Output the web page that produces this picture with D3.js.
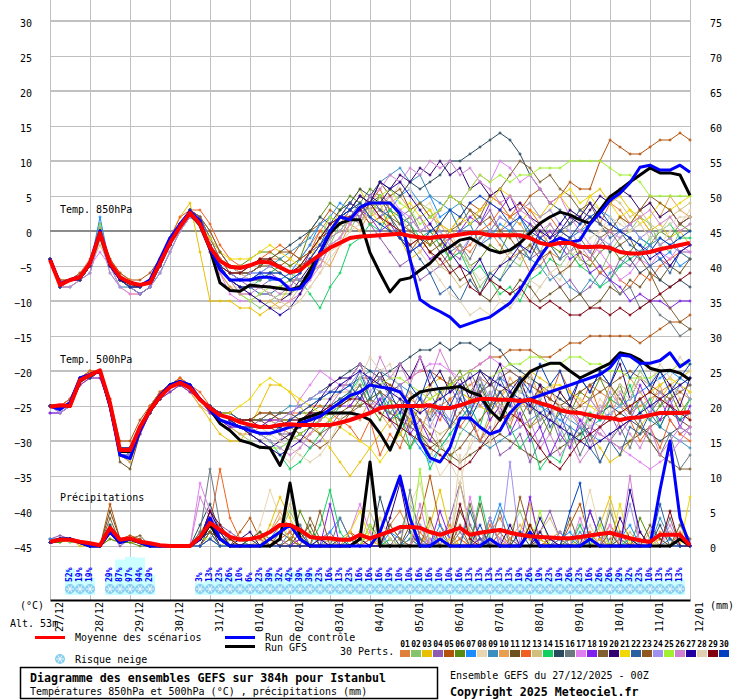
<!DOCTYPE html>
<html>
<head>
<meta charset="utf-8">
<script src="https://cdn.jsdelivr.net/npm/d3@7"></script>
<style>
body { margin: 0; background: #fff; }
svg { display: block; }
</style>
</head>
<body>
<script>
//---------------------------------- DATA ------------------------------------------
// 6-hourly steps over 384h, day labels under the gridlines
var days = ["27/12","28/12","29/12","30/12","31/12","01/01","02/01","03/01","04/01","05/01","06/01","07/01","08/01","09/01","10/01","11/01","12/01"];
var hours = d3.range(0, 385, 6);

var memberColors = ["#e07f3a","#86c46b","#e8c000","#8e5bb0","#b5520a","#5a8a10","#1a8cff","#e8d6b0","#3a8fc0","#e8a050",
	"#6b5020","#f06020","#d0c080","#10d060","#2a4a60","#6a7880","#e080f0","#8020f0","#806030","#300070",
	"#f0d800","#2a60a0","#905820","#a090f0","#a0f030","#d080d0","#2000a0","#e0d0b0","#800010","#0040c0"];

// mean / control / GFS
var meanT850 = [-4.1,-7.7,-7,-6.6,-4.6,-0.3,-4.6,-6.6,-7.4,-7.7, -7.4,-4.6,-1.7,0.6,2.6,1,-2.3,-4.3,-5.1,-5.3, -4.9,-4.4,-4.5,-5.2,-5.9,-5.6,-4.4,-3.4,-2.4,-1.7, -1,-0.8,-0.7,-0.6,-0.5,-0.4,-0.7,-0.9,-1,-0.8, -0.7,-0.5,-0.3,-0.3,-0.6,-0.6,-0.6,-0.6,-1,-1.7, -2,-1.7,-1.7,-2.3,-2.3,-2.2,-2.4,-3,-3.2,-3.2, -3,-2.6,-2.3,-2,-1.7];
var ctlT850 = [-4,-7.5,-7,-6.5,-4.5,0,-4.8,-6.8,-7.3,-7.8, -7,-4,-1,1,2.8,1.5,-2.5,-5.5,-7,-7, -7,-6.6,-6.6,-7,-8.4,-8.2,-6.6,-3.1,0,2, 1.6,3.4,4,4,4,2.5,-4,-9.8,-10.8,-11.5, -12.3,-13.7,-13.2,-12.7,-12.3,-11.3,-10.3,-8.4,-6,-3.7, -1.7,-1,-1.6,-1.3,1,2.6,4.4,5.4,6.9,9.1, 9.4,8.7,8.7,9.4,8.4];
var gfsT850 = [-4,-7.6,-7,-6.6,-4.6,-0.5,-4.8,-6.8,-7.5,-7.8, -7.3,-4.5,-1.5,0.8,2.5,0.8,-2.6,-7.4,-8.5,-8.6, -7.7,-7.9,-8,-8.2,-8.4,-8,-5.6,-3.1,-0.3,1.1, 1.6,1.6,-3.1,-6,-8.7,-7,-6.7,-5.6,-4.6,-3.1, -2.3,-1.3,-1,-1.8,-2.7,-3.1,-2.7,-1.7,-0.3,1.1, 2,2.7,2.3,1.6,1.1,3,4.9,5.9,7,8, 9,8.3,8.3,8,5.1];

var meanT500 = [-25.1,-24.9,-25,-21.3,-20.6,-19.9,-24.6,-31.3,-31.3,-28, -25.6,-23.7,-22.3,-21.7,-22.4,-24.1,-25.3,-26.3,-26.7,-27.3, -27.7,-28,-28,-27.7,-27.6,-27.7,-27.7,-27.7,-27.7,-27.4, -27,-26.5,-26,-25.3,-25.1,-25,-25,-25,-24.9,-25.3, -25.3,-24.9,-24.4,-24,-24,-24.1,-24.1,-24.3,-24.1,-24.6, -25,-25.6,-25.9,-26,-26.3,-26.6,-26.7,-27,-26.7,-26.6, -26.3,-26,-26,-26,-25.9];
var ctlT500 = [-25,-25.5,-24.5,-21,-20.5,-20,-25,-32,-32.5,-28.5, -25.5,-23.5,-22,-21.5,-22,-24,-25.5,-27,-27.5,-28, -28.5,-28.9,-28.9,-28.5,-28,-27.5,-27,-26.5,-25.5,-24.5, -23.5,-23,-22,-22.3,-22.5,-23,-25,-29.9,-32.4,-33, -30.9,-26.7,-26.7,-28,-29,-28.5,-26,-24.5,-24,-23.5, -23,-22.5,-22,-21.5,-21,-20.5,-19.5,-17.7,-17.9,-18.9, -18.9,-18.5,-17.4,-19.4,-18.4];
var gfsT500 = [-25,-25,-25,-21.5,-20.5,-20,-25,-31.5,-31.5,-28, -25.5,-23.5,-22,-21.5,-22.5,-24,-25.5,-27.5,-28.5,-29.9, -30.3,-30.9,-31,-33.5,-30,-27,-26.5,-26,-26,-26, -26,-26.3,-27,-28.9,-31.3,-28,-24,-23,-22.7,-22.5, -22.4,-22.2,-23,-23.5,-25.6,-27,-24,-21.7,-20.1,-19.4, -18.9,-18.9,-20,-21,-20.3,-19.6,-18.9,-17.4,-17.7,-18.4, -19.6,-20,-19.9,-20.3,-21.3];

var meanPrec = [0.6,0.9,0.9,0.6,0.4,0.1,2.6,0.9,1.1,0.6, 0.4,0.1,0,0,0,1.3,3.3,2.3,1.3,0.9, 1,1.3,2,3,3,2.3,1.3,1.1,1.1,0.9, 0.9,1.6,1.1,1.6,2.1,2.7,2.7,2.6,2,1.6, 2.1,2.6,1.6,1.9,2.1,2.3,1.9,1.6,1.4,1.3, 1.2,1.1,1.1,1.3,1.5,1.7,1.9,1.5,1.1,0.8, 0.6,1.6,1.6,1.6,0.1];
var ctlPrec = [0.5,1,1,0.5,0,0,2,0.5,1,0.5, 0,0,0,0,0,1,4,1,0,0, 0,0,1,2,3,1,0,0,0,0, 0,0,0,2,6,10,4,0,0,1, 0,0,0,0,1,0,0,0,2,0, 0,0,0,0,1,0,0,0,0,0, 0,8,15,4,0];
var gfsPrec = [0.5,1,1,0.5,0,0,2,0.5,1,0.5, 0,0,0,0,0,1,3,1,0,0, 0,0,0,1,9,1,0,0,0,0, 0,1,12,0,0,0,0,0,0,0, 0,0,0,0,0,0,0,0,0,0, 0,0,0,0,0,0,0,0,0,0, 0,0,0,1,0];

// 30 perturbed members, 850hPa temperature (°C)
var membersT850 = [
	[-4,-7,-7,-6,-4,0,-4,-6,-7,-8, -7,-4,-1,1,3,2,0,-3,-5,-6, -6,-5,-4,-4,-5,-4, -2,0,2,1,3,4,2,3,1,0, -2,-1,-3,-5,-4,-2,-3,-1,0,-2, -4,-3,-6,-5,-3,-4,-1,0,2,1, 4,3,1,2,0,-2,-1,-3,-4],
	[-4,-8,-7,-7,-5,-1,-5,-7,-8,-9, -8,-5,-2,0,2,1,-3,-6,-8,-9, -10,-11,-10,-9,-9,-8, -6,-3,-2,1,0,3,2,5,3,1, 2,4,3,0,-3,-2,-5,-8,-6,-7, -4,-5,-2,-1,1,-1,-3,-5,-4,-6, -3,-1,0,2,1,-2,-3,0,1],
	[-4,-8,-7,-7,-5,0,-5,-7,-7,-8, -7,-4,-1,2,4,-3,-10,-10,-10,-11, -11,-12,-11,-10,-8,-6, -4,-1,0,3,4,6,3,4,0,-1, -4,-3,-1,1,3,0,1,-2,-1,0, 2,1,3,2,4,5,3,2,5,6, 4,5,3,2,0,1,-1,0,-2],
	[-4,-8,-8,-7,-6,-1,-5,-7,-8,-8, -7,-5,-2,1,2,1,-2,-5,-6,-7, -8,-8,-7,-7,-6,-5, -3,-2,0,2,1,3,1,-1,-3,-5, -4,-7,-6,-5,-3,-4,-1,1,3,0, 1,-2,-4,-3,-6,-8,-7,-9,-8,-6, -7,-4,-5,-3,-2,-4,-5,-3,-3],
	[-4,-7,-7,-6,-5,0,-4,-6,-7,-7, -6,-4,-1,1,3,2,-1,-4,-5,-6, -7,-7,-6,-5,-4,-2, 0,1,3,2,4,3,1,2,0,-1, -3,-1,-2,1,0,2,4,3,5,4, 2,3,5,6,4,5,7,6,6,10, 13,12,11,11,12,13,13,14,13],
	[-4,-8,-7,-7,-5,0,-5,-7,-8,-8, -7,-5,-2,1,3,1,-2,-4,-5,-5, -4,-3,-3,-4,-5,-4, 0,2,4,3,5,4,6,5,3,1, 2,0,-2,-1,-4,-3,-5,-4,-2,-3, 0,-1,1,0,-2,-3,-1,-4,-5,-3, -2,-4,-3,-1,-2,0,-1,1,0],
	[-4,-8,-7,-7,-5,2,-5,-7,-8,-8, -7,-5,-2,1,3,2,-1,-3,-5,-6, -6,-6,-7,-7,-6,-4, -2,1,2,4,3,5,4,2,3,5, 6,4,5,2,3,0,1,-2,-1,1, 0,2,-1,-3,-2,-4,-1,0,1,3, 2,0,1,-1,-2,-4,-3,-5,-4],
	[-4,-8,-7,-7,-5,0,-5,-7,-7,-8, -7,-5,-2,1,3,1,-3,-6,-8,-8, -8,-8,-9,-10,-11,-10, -8,-6,-3,-2,1,0,3,5,4,7, 6,3,4,1,0,-3,-5,-7,-6,-10, -11,-9,-10,-8,-6,-7,-4,-2,-3,0, 1,2,0,1,-1,-2,0,1,3],
	[-4,-8,-7,-7,-5,0,-5,-7,-8,-8, -7,-5,-2,1,3,1,-2,-5,-6,-7, -7,-6,-5,-4,-3,-2, -1,1,0,2,3,5,4,7,8,9, 7,8,5,4,3,4,1,2,0,-1, -3,-2,-4,-5,-7,-6,-8,-9,-7,-8, -6,-5,-3,-4,-2,-1,-2,-3,-4],
	[-4,-8,-8,-7,-6,-1,-6,-8,-9,-9, -8,-6,-3,0,2,1,-3,-6,-8,-9, -9,-10,-10,-11,-10,-9, -7,-4,-5,-2,1,0,3,2,4,5, 3,4,2,1,-1,1,2,3,5,4, 2,1,-1,0,-2,0,1,3,2,1, 0,2,1,3,4,2,5,3,2],
	[-4,-8,-7,-7,-5,0,-5,-7,-8,-8, -7,-5,-2,1,3,1,-2,-5,-6,-6, -6,-5,-5,-6,-7,-7, -6,-5,-2,-1,2,1,4,3,2,0, 1,-2,-1,-3,-5,-7,-6,-9,-10,-8, -9,-7,-8,-10,-9,-8,-10,-9,-11,-10, -8,-9,-7,-8,-6,-7,-5,-6,-4],
	[-4,-8,-7,-7,-5,0,-5,-7,-7,-8, -7,-4,-1,2,3,3,1,-2,-4,-5, -5,-4,-3,-2,-3,-4, -3,0,-1,2,3,5,4,6,3,2, 1,2,0,-2,-1,-3,-2,0,1,3, 2,4,3,1,2,0,-1,-3,-4,-6, -5,-7,-8,-6,-7,-5,-4,-3,-2],
	[-4,-8,-7,-7,-5,-2,-5,-7,-8,-8, -7,-5,-2,1,3,1,-2,-5,-7,-8, -9,-10,-11,-11,-10,-8, -6,-5,-2,-1,2,1,4,3,5,2, 0,-1,-3,-5,-6,-8,-7,-9,-6,-5, -3,-4,-2,-3,0,-1,1,2,4,3, 5,4,2,3,1,0,2,3,4],
	[-4,-8,-7,-7,-5,0,-5,-8,-8,-9, -8,-6,-3,0,2,1,-2,-5,-7,-8, -8,-7,-6,-5,-6,-7, -9,-11,-8,-6,-2,-1,1,0,3,2, 1,-1,0,-2,-4,-3,-6,-5,-7,-9, -8,-10,-7,-6,-4,-5,-3,-5,-6,-8, -7,-5,-4,-3,-1,0,1,-1,-1],
	[-4,-8,-7,-7,-5,0,-5,-7,-8,-8, -7,-5,-2,1,3,1,-2,-5,-6,-7, -6,-5,-4,-3,-2,-1, 0,2,1,3,4,6,5,7,6,5, 7,6,7,8,10,10,11,12,13,14, 13,11,8,6,4,3,1,2,0,-1, -3,-2,-4,-6,-5,-7,-8,-7,-8],
	[-4,-8,-7,-7,-5,0,-5,-7,-8,-8, -7,-5,-2,1,3,2,-1,-4,-6,-7, -7,-7,-6,-6,-7,-8, -6,-4,-1,0,2,4,3,5,4,2, 3,0,1,-1,-3,-2,-4,-1,0,2, 1,-1,0,-3,-2,-4,-3,-1,-3,-5, -7,-9,-8,-11,-10,-12,-13,-15,-14],
	[-4,-8,-7,-7,-5,-3,-5,-8,-9,-9, -8,-6,-3,0,2,1,-3,-6,-9,-10, -10,-9,-9,-10,-10,-9, -7,-5,-2,-1,1,3,2,4,5,3, 2,0,1,3,5,4,6,8,7,10, 9,7,8,6,4,5,2,0,-2,-3, -5,-7,-6,-4,-5,-3,-4,-2,-3],
	[-4,-8,-7,-7,-5,0,-5,-7,-8,-8, -7,-5,-2,1,3,1,-2,-5,-7,-7, -7,-6,-6,-7,-8,-6, -3,-1,1,2,4,3,2,0,1,-1, -3,-2,-4,-3,-1,0,2,1,4,3, 5,2,1,-1,0,-2,-4,-3,-6,-5, -7,-8,-10,-9,-10,-10,-11,-10,-10],
	[-4,-8,-7,-7,-5,0,-5,-7,-8,-8, -7,-5,-2,1,3,1,-2,-4,-6,-6, -5,-4,-4,-5,-6,-5, -4,-2,0,1,3,2,4,5,2,1, 0,-1,-3,-2,0,1,3,2,5,6, 8,10,9,7,8,6,5,3,4,1, 0,-2,-1,-4,-6,-9,-11,-13,-14],
	[-4,-8,-7,-7,-5,1,-5,-7,-8,-9, -8,-5,-2,1,3,1,-2,-5,-7,-8, -8,-8,-9,-10,-9,-7, -5,-3,0,1,3,2,5,4,6,8, 7,9,8,10,8,9,6,7,5,6, 3,4,2,1,-1,0,2,1,3,5, 4,6,5,3,4,2,3,1,2],
	[-4,-8,-7,-7,-5,0,-5,-7,-8,-8, -7,-5,-2,1,3,1,-1,-3,-4,-4, -4,-3,-2,-3,-4,-5, -5,-4,-1,0,2,1,3,1,2,3, 4,2,3,1,0,2,1,3,4,6, 5,3,4,2,3,5,6,4,5,3, 4,2,3,1,2,4,3,4,5],
	[-4,-8,-7,-7,-5,0,-5,-7,-8,-8, -7,-5,-2,1,3,1,-2,-5,-7,-8, -8,-9,-9,-8,-7,-6, -4,-2,1,2,4,3,5,3,2,-1, -2,-4,-6,-9,-8,-10,-7,-9,-6,-7, -5,-3,-4,-1,-2,0,1,3,2,1, -1,0,-2,-3,-5,-4,-6,-3,-2],
	[-4,-8,-7,-7,-5,0,-5,-7,-8,-8, -7,-5,-2,1,3,2,0,-3,-5,-6, -6,-5,-4,-3,-3,-4, -3,-1,0,2,3,5,4,7,5,6, 3,4,2,3,5,4,3,1,2,0, -1,-3,-2,-4,-3,-6,-5,-3,-4,-1, 0,2,1,3,5,4,3,1,2],
	[-4,-8,-8,-7,-6,-1,-6,-8,-8,-9, -8,-6,-3,0,2,1,-2,-5,-6,-7, -6,-6,-5,-5,-6,-7, -6,-4,-1,0,2,1,3,2,4,3, 1,2,-1,0,-2,-3,-1,-2,0,2, 1,3,4,2,3,1,0,-2,-3,-1, -2,0,1,-1,0,-2,-1,-3,-2],
	[-4,-8,-7,-7,-5,1,-5,-7,-8,-8, -7,-5,-2,1,3,1,-2,-5,-7,-9, -10,-9,-8,-8,-7,-5, -3,-1,2,1,3,4,2,5,6,4, 3,1,2,3,5,4,6,8,7,8, 7,8,8,9,9,9,10,10,10,10, 9,8,8,7,5,5,5,5,5],
	[-4,-8,-7,-7,-5,0,-5,-7,-8,-8, -7,-5,-2,1,3,1,-2,-5,-7,-9, -9,-8,-8,-9,-8,-6, -4,-2,0,1,3,2,5,6,8,7, 9,8,10,9,10,8,9,7,6,4, 5,3,2,0,1,-1,-3,-2,-4,-2, 0,-1,1,2,3,1,2,0,1],
	[-4,-8,-7,-7,-5,0,-5,-7,-8,-8, -7,-5,-2,1,3,1,-2,-5,-7,-8, -9,-10,-11,-12,-11,-9, -6,-3,0,2,3,5,4,7,6,7, 5,3,1,-1,-3,-5,-6,-4,-7,-5, -4,-2,-3,0,-1,1,3,2,4,2, 1,0,-1,-2,-4,-3,-5,-3,-2],
	[-4,-8,-7,-7,-5,-1,-5,-7,-8,-8, -7,-5,-2,1,3,1,-2,-4,-5,-6, -7,-8,-9,-10,-11,-10, -8,-6,-4,-2,0,1,3,2,1,0, -1,-3,-5,-7,-9,-10,-12,-11,-12,-10, -11,-9,-7,-8,-6,-5,-3,-4,-1,0, 2,1,0,1,-1,0,1,2,2],
	[-4,-8,-7,-7,-5,0,-5,-7,-8,-8, -7,-5,-2,1,3,1,-2,-5,-6,-6, -5,-4,-4,-5,-6,-5, -3,-1,1,2,2,3,4,2,1,0, -2,-1,-3,-4,-6,-5,-8,-9,-7,-8, -9,-8,-10,-11,-10,-11,-12,-12,-11,-11, -12,-11,-12,-11,-10,-9,-8,-7,-6],
	[-4,-8,-7,-7,-5,0,-5,-7,-8,-8, -7,-5,-2,1,3,1,-2,-5,-7,-7, -7,-6,-6,-6,-7,-6, -4,-2,0,2,3,4,2,1,0,-1, -3,-2,0,1,3,2,4,5,4,3, 1,2,0,-1,-2,0,-1,1,2,3, 1,0,-1,-2,-3,-1,-2,-1,0]
];

// 30 perturbed members, 500hPa temperature (°C)
var membersT500 = [
	[-25,-25,-24,-21,-20,-20,-24,-31,-32,-28, -25,-23,-22,-21,-22,-24,-25,-26,-27,-27, -28,-28,-27,-26,-26,-27,-28,-27,-26,-25, -24,-23,-22,-21,-22,-23,-24,-25,-26,-25, -24,-23,-22,-21,-22,-23,-25,-27,-28,-27, -26,-25,-24,-23,-22,-23,-24,-25,-26,-25, -24,-23,-22,-23,-24],
	[-25,-26,-25,-21,-21,-20,-25,-32,-33,-29, -26,-24,-23,-22,-22,-24,-26,-27,-28,-29, -30,-31,-31,-30,-29,-28,-27,-26,-25,-24, -23,-25,-22,-20,-24,-27,-25,-29,-32,-30, -33,-29,-27,-30,-26,-24,-25,-22,-24,-27, -25,-28,-31,-29,-26,-27,-24,-22,-23,-20, -22,-25,-24,-22,-21],
	[-25,-25,-25,-22,-21,-20,-25,-31,-31,-28, -25,-24,-22,-22,-23,-25,-27,-29,-30,-30, -28,-25,-22,-22,-23,-25,-27,-29,-31,-33, -35,-33,-31,-29,-27,-25,-24,-23,-22,-21, -22,-23,-24,-25,-26,-24,-22,-21,-20,-21, -22,-23,-25,-27,-29,-31,-33,-32,-30,-28, -26,-24,-22,-21,-20],
	[-26,-26,-25,-21,-21,-20,-25,-31,-31,-28, -26,-24,-22,-22,-22,-24,-26,-27,-28,-28, -28,-27,-27,-28,-29,-30,-31,-30,-28,-26, -25,-23,-26,-24,-27,-29,-26,-24,-27,-23, -22,-25,-27,-30,-28,-32,-31,-29,-33,-30, -27,-28,-25,-27,-30,-28,-26,-29,-27,-24, -26,-24,-27,-29,-28],
	[-25,-25,-24,-21,-20,-20,-24,-30,-30,-27, -25,-23,-22,-21,-22,-24,-25,-26,-26,-27, -27,-26,-26,-27,-27,-26,-25,-24,-23,-22, -22,-21,-21,-22,-23,-22,-21,-20,-20,-21, -22,-21,-20,-19,-18,-18,-17,-17,-17,-18, -18,-17,-16,-16,-15,-15,-15,-15,-15,-16, -15,-14,-13,-13,-12],
	[-25,-25,-25,-21,-21,-20,-25,-32,-32,-28, -26,-24,-22,-22,-22,-24,-25,-26,-27,-28, -28,-28,-28,-27,-27,-26,-26,-25,-25,-24, -24,-22,-25,-27,-24,-29,-31,-28,-26,-23, -22,-20,-23,-21,-25,-24,-27,-25,-28,-26, -29,-25,-26,-23,-24,-21,-24,-22,-26,-24, -27,-25,-23,-26,-24],
	[-25,-25,-25,-21,-21,-20,-25,-31,-32,-28, -26,-24,-22,-22,-22,-24,-25,-26,-27,-27, -28,-29,-30,-31,-30,-29,-28,-27,-26,-25, -24,-23,-22,-23,-25,-27,-29,-31,-33,-31, -29,-27,-25,-23,-22,-21,-22,-23,-24,-25, -26,-27,-28,-29,-28,-27,-26,-25,-24,-23, -22,-21,-20,-21,-22],
	[-25,-25,-25,-21,-21,-20,-25,-31,-31,-28, -26,-24,-22,-22,-22,-24,-25,-26,-27,-28, -29,-30,-31,-32,-33,-31,-29,-27,-25,-23, -21,-19,-22,-20,-24,-23,-27,-28,-31,-35, -33,-36,-30,-28,-31,-26,-23,-25,-22,-26, -24,-29,-31,-28,-27,-24,-26,-22,-23,-21, -19,-22,-21,-24,-23],
	[-25,-25,-25,-21,-21,-20,-25,-31,-31,-28, -26,-24,-22,-22,-22,-24,-25,-26,-26,-27, -27,-27,-26,-26,-25,-25,-24,-24,-23,-23, -22,-21,-20,-20,-21,-22,-23,-24,-25,-26, -27,-28,-29,-30,-31,-30,-29,-28,-27,-26, -25,-26,-27,-28,-29,-30,-29,-28,-27,-26, -27,-28,-29,-30,-31],
	[-25,-26,-25,-22,-21,-21,-25,-32,-33,-29, -26,-24,-23,-22,-23,-25,-26,-27,-28,-29, -29,-28,-27,-28,-29,-30,-29,-28,-27,-26, -25,-27,-24,-26,-28,-25,-23,-26,-22,-24, -21,-23,-25,-22,-26,-24,-21,-23,-20,-24, -22,-26,-25,-28,-24,-26,-22,-25,-21,-23, -25,-22,-26,-24,-27],
	[-25,-25,-25,-21,-21,-20,-25,-33,-34,-29, -26,-24,-22,-22,-22,-24,-25,-26,-27,-27, -27,-27,-28,-29,-30,-29,-28,-27,-26,-26, -25,-25,-24,-25,-26,-27,-28,-29,-30,-31, -32,-33,-32,-31,-30,-29,-30,-31,-32,-33, -32,-31,-30,-29,-28,-29,-30,-31,-30,-29, -28,-27,-26,-27,-28],
	[-25,-25,-24,-21,-20,-20,-24,-31,-31,-28, -25,-23,-22,-21,-22,-23,-25,-26,-27,-28, -28,-28,-27,-27,-26,-26,-25,-25,-26,-27, -28,-30,-27,-32,-29,-31,-27,-29,-25,-27, -24,-28,-26,-30,-27,-25,-28,-24,-26,-22, -24,-20,-23,-25,-22,-26,-24,-28,-27,-30, -28,-31,-27,-29,-30],
	[-25,-25,-25,-21,-21,-20,-25,-31,-31,-28, -26,-24,-22,-22,-22,-24,-25,-26,-27,-28, -29,-30,-29,-28,-27,-26,-25,-24,-24,-23, -23,-22,-22,-23,-24,-25,-26,-27,-28,-29, -28,-27,-26,-25,-24,-23,-22,-21,-21,-22, -23,-24,-25,-26,-27,-28,-27,-26,-25,-24, -23,-22,-21,-22,-23],
	[-25,-25,-25,-21,-21,-20,-25,-32,-32,-28, -26,-24,-22,-22,-22,-24,-25,-26,-27,-28, -28,-29,-30,-32,-34,-33,-31,-29,-27,-25, -23,-21,-24,-23,-27,-26,-31,-29,-34,-31, -29,-27,-25,-28,-23,-26,-28,-31,-29,-34, -32,-33,-29,-30,-26,-27,-24,-25,-22,-26, -24,-28,-25,-27,-24],
	[-25,-25,-25,-21,-21,-20,-25,-31,-31,-28, -26,-24,-22,-22,-22,-24,-25,-26,-26,-27, -27,-27,-27,-26,-26,-25,-24,-23,-22,-21, -20,-19,-20,-21,-20,-19,-18,-17,-17,-16, -17,-16,-16,-17,-16,-17,-19,-20,-21,-22, -23,-24,-25,-26,-27,-26,-25,-26,-27,-28, -29,-30,-29,-28,-29],
	[-25,-25,-25,-21,-21,-20,-25,-31,-31,-28, -26,-24,-22,-22,-22,-24,-25,-26,-27,-27, -28,-28,-28,-29,-29,-28,-27,-26,-25,-24, -24,-22,-25,-23,-26,-24,-28,-25,-23,-26, -21,-24,-20,-23,-21,-25,-23,-27,-24,-28, -26,-30,-28,-32,-29,-33,-30,-28,-31,-27, -30,-32,-29,-34,-32],
	[-25,-25,-25,-21,-21,-20,-25,-31,-31,-28, -26,-24,-22,-22,-22,-24,-25,-26,-27,-28, -29,-30,-31,-30,-27,-24,-22,-20,-21,-22, -23,-24,-25,-24,-23,-22,-21,-20,-19,-19, -20,-21,-20,-19,-18,-19,-20,-21,-22,-23, -24,-25,-26,-27,-28,-29,-30,-31,-32,-33, -34,-33,-32,-30,-28],
	[-26,-26,-25,-22,-21,-21,-25,-32,-32,-29, -26,-24,-23,-22,-23,-24,-26,-27,-28,-28, -28,-28,-27,-27,-28,-28,-27,-26,-26,-25, -25,-23,-26,-24,-27,-25,-29,-27,-30,-26, -28,-24,-26,-23,-27,-25,-29,-26,-30,-28, -32,-29,-31,-27,-29,-25,-27,-23,-26,-22, -25,-27,-24,-28,-25],
	[-25,-25,-25,-21,-21,-20,-25,-31,-31,-28, -26,-24,-22,-22,-22,-24,-25,-26,-27,-27, -27,-27,-26,-26,-26,-27,-28,-29,-28,-27, -26,-25,-24,-23,-24,-25,-27,-29,-31,-30, -28,-26,-24,-23,-22,-21,-20,-21,-22,-23, -24,-25,-24,-23,-22,-21,-22,-24,-26,-28, -30,-32,-33,-34,-34],
	[-25,-25,-25,-21,-21,-20,-25,-31,-31,-28, -26,-24,-22,-22,-22,-24,-25,-26,-27,-28, -29,-30,-31,-30,-29,-28,-26,-24,-22,-21, -21,-19,-22,-20,-23,-19,-21,-18,-22,-20, -23,-21,-24,-20,-22,-19,-23,-21,-25,-22, -26,-23,-25,-21,-23,-20,-22,-19,-24,-21, -23,-20,-22,-25,-21],
	[-25,-25,-25,-21,-21,-20,-25,-31,-31,-28, -26,-24,-22,-22,-22,-24,-25,-26,-26,-25, -24,-22,-21,-22,-23,-24,-25,-26,-27,-28, -29,-30,-31,-33,-31,-29,-27,-25,-24,-23, -22,-23,-24,-25,-26,-27,-26,-25,-24,-23, -22,-22,-23,-24,-25,-26,-27,-26,-25,-24, -23,-22,-21,-22,-23],
	[-25,-25,-25,-21,-21,-20,-25,-31,-31,-28, -26,-24,-22,-22,-22,-24,-25,-26,-27,-28, -28,-29,-29,-28,-27,-27,-26,-26,-25,-24, -23,-20,-24,-21,-23,-22,-26,-24,-27,-25, -28,-24,-26,-22,-25,-21,-24,-22,-26,-24, -28,-26,-30,-28,-31,-33,-30,-32,-28,-29, -26,-28,-25,-27,-26],
	[-25,-25,-25,-21,-21,-20,-25,-31,-31,-28, -26,-24,-22,-22,-22,-24,-25,-26,-27,-27, -27,-26,-26,-27,-28,-29,-30,-31,-30,-28, -26,-24,-22,-21,-22,-23,-25,-27,-29,-31, -32,-31,-29,-27,-25,-23,-22,-21,-22,-23, -24,-25,-26,-25,-24,-23,-22,-21,-20,-21, -22,-23,-24,-23,-22],
	[-25,-26,-25,-21,-21,-20,-25,-32,-32,-28, -26,-24,-22,-22,-22,-24,-25,-26,-27,-27, -28,-28,-28,-27,-26,-25,-24,-23,-23,-22, -22,-20,-23,-21,-24,-22,-26,-23,-28,-25, -27,-23,-25,-21,-24,-20,-23,-25,-22,-27, -25,-29,-26,-28,-24,-26,-23,-25,-27,-24, -26,-23,-25,-22,-24],
	[-25,-25,-25,-21,-21,-20,-25,-31,-31,-28, -26,-24,-22,-22,-22,-24,-25,-26,-27,-28, -29,-30,-31,-31,-30,-29,-28,-27,-26,-25, -24,-23,-22,-22,-21,-21,-22,-23,-24,-23, -22,-21,-20,-20,-21,-20,-19,-19,-18,-18, -19,-19,-18,-18,-19,-19,-20,-20,-21,-21, -21,-20,-20,-19,-19],
	[-25,-25,-25,-21,-21,-20,-25,-31,-31,-28, -26,-24,-22,-22,-22,-24,-25,-26,-27,-28, -28,-29,-30,-31,-32,-31,-29,-27,-25,-23, -21,-19,-22,-18,-21,-19,-22,-18,-21,-17, -20,-22,-21,-25,-23,-26,-24,-28,-27,-31, -29,-32,-30,-33,-31,-28,-30,-27,-29,-31, -28,-32,-30,-28,-29],
	[-25,-25,-25,-21,-21,-20,-25,-31,-31,-28, -26,-24,-22,-22,-22,-24,-25,-26,-27,-28, -29,-30,-31,-32,-31,-30,-28,-26,-24,-22, -21,-20,-21,-22,-23,-24,-25,-26,-25,-24, -23,-22,-21,-20,-21,-22,-23,-24,-25,-26, -27,-28,-29,-30,-31,-30,-29,-28,-27,-26, -25,-24,-23,-22,-21],
	[-25,-25,-25,-21,-21,-20,-25,-31,-31,-28, -26,-24,-22,-22,-22,-24,-25,-26,-27,-27, -28,-28,-29,-30,-31,-32,-33,-32,-30,-27, -24,-21,-18,-20,-19,-23,-25,-28,-26,-31, -30,-33,-31,-28,-30,-25,-27,-23,-21,-24, -22,-25,-27,-24,-28,-25,-27,-23,-24,-21, -22,-19,-21,-18,-20],
	[-25,-25,-25,-21,-21,-20,-25,-31,-31,-28, -26,-24,-22,-22,-22,-24,-25,-26,-27,-27, -27,-28,-28,-28,-27,-27,-26,-26,-25,-25, -24,-24,-25,-26,-27,-28,-29,-30,-31,-32, -33,-34,-33,-31,-29,-27,-26,-27,-29,-31, -33,-34,-32,-30,-29,-28,-27,-26,-25,-24, -23,-24,-25,-26,-27],
	[-25,-25,-25,-21,-21,-20,-25,-31,-31,-28, -26,-24,-22,-22,-22,-24,-25,-26,-27,-28, -28,-28,-28,-28,-27,-26,-25,-24,-23,-23, -22,-24,-21,-25,-23,-26,-22,-24,-20,-23, -25,-22,-27,-24,-26,-23,-25,-21,-23,-19, -22,-20,-24,-21,-23,-20,-22,-18,-21,-19, -22,-20,-23,-21,-19]
];

// 30 perturbed members, 6h precipitation (mm)
var membersPrec = [
	[0.5,1,1,0.5,0,0,2,0.5,1,0.5, 0,0,0,0,0,1,3,2,1,0, 0,1,2,4,3,1,0,0,1,0, 0,2,1,0,3,5,2,0,0,1, 3,1,0,0,2,4,1,0,0,0, 1,2,0,0,0,1,3,1,0,0, 0,2,1,0,0],
	[1,1,0.5,0.5,0,0,3,1,1,0.5, 0,0,0,0,0,0,2,1,0,0, 1,0,0,2,5,2,0,0,0,1, 2,0,0,1,0,2,6,3,0,0, 0,1,3,0,0,0,2,5,1,0, 0,0,1,3,0,0,0,2,0,0, 1,0,0,3,0],
	[0.5,1,1,0,0,0,1,0.5,0.5,0.5, 0,0,0,0,0,2,4,1,0,0, 0,0,3,7,4,1,0,0,0,0, 1,0,2,4,1,0,0,0,3,8, 2,0,0,1,0,0,0,2,6,1, 0,0,0,1,0,3,7,2,0,0, 0,1,0,0,0],
	[1,1.5,1,0.5,0,0,2,0,1,1, 0,0,0,0,0,0,1,3,2,1, 0,0,1,2,1,0,0,1,2,0, 0,0,1,0,0,2,3,1,0,0, 4,9,3,0,0,0,1,0,0,2, 5,1,0,0,0,0,1,2,0,0, 0,0,2,1,0],
	[0.5,1,1,0.5,0,0,6,1,1.5,1, 0,0,0,0,0,0,2,1,0,2, 4,1,0,0,1,3,0,0,0,0, 2,1,0,0,1,0,0,4,10,3, 0,0,0,1,0,2,0,0,0,0, 1,0,3,6,1,0,0,0,0,2, 0,0,0,1,0],
	[0.5,0.5,1,0.5,0,0,1,0.5,0.5,0, 0,0,0,0,0,1,2,0,0,0, 1,2,1,0,0,5,2,0,1,0, 0,0,3,1,0,0,1,0,2,0, 0,0,6,1,0,0,0,0,3,1, 0,0,1,0,0,0,2,0,0,4, 1,0,0,0,0],
	[1,1,1,0.5,0,0,2,0.5,1,0.5, 0,0,0,0,0,1,5,2,1,0, 0,0,1,3,1,0,0,0,2,4, 1,0,0,0,2,1,0,0,0,3, 1,0,0,0,2,6,2,0,0,0, 0,1,2,0,0,0,0,1,3,0, 0,0,1,0,0],
	[0.5,1,1,0.5,0,0,2,0.5,1,0.5, 0,0,0,0,0,0,1,1,0,0, 0,3,8,4,1,0,0,0,0,1, 0,2,1,0,0,0,6,9,3,0, 0,0,1,0,0,0,2,0,0,1, 0,0,0,3,8,2,0,0,0,0, 1,0,2,0,0],
	[0.5,1,1,0.5,0,0,3,0.5,1,0.5, 0,0,0,0,0,2,3,1,0,0, 0,0,1,0,2,3,0,0,0,0, 1,0,0,2,0,0,1,0,0,2, 0,0,0,0,1,0,0,2,1,0, 0,0,0,2,0,0,0,0,1,0, 0,4,1,0,0],
	[0.5,1,1,0.5,0,0,2,0.5,1,0.5, 0,0,0,0,0,1,2,1,0,0, 0,0,2,5,2,0,0,0,1,0, 0,0,0,1,3,1,0,0,0,0, 0,0,0,2,0,0,1,3,1,0, 0,0,0,0,0,1,0,0,0,0, 2,0,0,1,0],
	[0.5,1,1,0.5,0,0,5,1,1,0.5, 0,0,0,0,0,0,2,1,1,0, 1,2,0,0,0,1,3,0,0,0, 0,1,0,0,0,0,3,1,0,0, 0,5,2,0,0,0,0,0,0,1, 0,2,0,0,0,0,0,1,0,0, 3,1,0,0,0],
	[0.5,1,1,0.5,0,0,2,0.5,1,0.5, 0,0,0,0,0,1,3,11,4,1, 0,0,0,1,2,0,0,0,0,0, 2,0,1,0,0,0,0,2,0,0, 0,1,0,0,3,1,0,0,0,0, 1,0,0,0,2,0,0,0,0,1, 0,0,0,2,0],
	[0.5,1,1,0.5,0,0,2,0.5,1,0.5, 0,0,0,0,0,0,1,0,0,0, 0,0,0,2,6,2,0,0,1,0, 0,0,5,1,0,1,0,0,2,0, 0,9,2,0,1,0,0,0,0,2, 4,1,0,0,0,0,6,0,2,0, 0,0,0,0,0],
	[0.5,1,1,0.5,0,0,2,0.5,1,0.5, 0,0,0,0,0,0,2,0,0,1, 0,0,0,1,0,0,0,3,8,2, 0,0,0,0,1,0,0,0,0,0, 0,0,0,7,1,0,0,0,0,0, 0,0,0,3,0,0,0,0,1,0, 0,0,0,0,0],
	[0.5,1,1,0.5,0,0,3,0.5,1,0.5, 0,0,0,0,0,3,6,2,0,0, 1,0,0,0,0,2,0,0,0,1, 0,0,0,7,2,0,0,0,1,0, 0,0,0,0,4,0,0,2,0,0, 0,0,0,0,5,1,0,0,0,0, 0,3,0,0,0],
	[0.5,1,1,0.5,0,0,2,0.5,1,0.5, 0,0,0,0,0,2,11,3,0,0, 0,0,0,2,1,0,0,0,0,4, 1,0,0,0,0,0,8,1,0,0, 0,2,0,0,0,5,0,0,0,0, 0,1,0,0,0,0,5,1,0,0, 0,0,4,0,0],
	[0.5,1,1,0.5,0,0,2,0.5,1,0.5, 0,0,0,0,0,9,5,1,0,0, 0,0,0,0,0,1,0,0,0,0, 2,6,2,0,0,0,0,0,1,0, 0,0,7,1,0,1,0,0,0,0, 0,0,0,4,0,0,3,0,0,0, 0,0,0,0,0],
	[0.5,1,1,0.5,0,0,2,0.5,1,0.5, 0,0,0,0,0,0,1,0,0,0, 0,0,0,0,0,1,0,0,6,0, 0,0,0,0,0,0,0,0,0,5, 1,0,0,1,0,0,0,0,7,0, 0,0,0,0,5,1,0,0,0,0, 0,0,0,0,0],
	[0.5,1,1,0.5,0,0,4,0.5,1,1.5, 0,0,0,0,0,1,2,1,0,0, 0,0,0,1,0,0,4,1,0,0, 0,0,0,0,3,1,0,0,0,0, 0,0,0,6,0,0,0,0,0,0, 0,0,4,0,0,0,0,0,0,0, 0,0,0,3,1],
	[0.5,1,1,0.5,0,0,2,0.5,1,0.5, 0,0,0,0,0,0,3,0,0,1, 2,0,0,0,0,0,0,0,0,0, 0,1,0,0,4,9,2,0,0,0, 0,0,0,0,0,0,3,0,0,2, 0,0,0,0,0,0,0,4,1,0, 0,0,0,0,0],
	[0.5,1,1,0.5,0,0,2,0.5,1,0.5, 0,0,0,0,0,0,2,0,1,0, 0,0,0,3,1,0,0,0,0,0, 2,5,1,0,0,0,0,0,0,0, 1,0,0,0,0,0,0,0,3,1, 0,0,0,0,0,1,0,6,0,0, 0,0,0,0,7],
	[0.5,1,1,0.5,0,0,2,0.5,1,0.5, 0,0,0,0,0,1,2,0,0,0, 0,0,0,0,0,0,0,0,0,0, 0,0,0,0,0,0,2,0,0,0, 0,0,5,1,0,0,0,0,0,0, 0,0,0,0,0,4,0,0,0,0, 0,6,1,0,0],
	[0.5,1,1,0.5,0,0,2,0.5,1,0.5, 0,0,0,0,0,0,2,1,0,0, 0,0,0,0,1,0,0,5,0,0, 0,0,0,0,0,0,0,0,4,0, 0,3,0,0,0,0,0,7,2,0, 0,0,0,0,0,0,2,0,0,0, 0,0,0,0,0],
	[0.5,1,1,0.5,0,0,2,0.5,1,0.5, 0,0,0,0,0,0,1,0,0,0, 0,0,0,0,0,0,0,0,0,0, 0,0,0,0,0,0,0,3,0,0, 0,0,0,0,4,0,12,0,0,0, 0,2,0,0,0,0,0,0,6,0, 0,0,0,0,0],
	[0.5,1,1,0.5,0,0,2,0.5,1,0.5, 0,0,0,0,0,1,1,0,0,0, 0,0,0,0,0,0,0,0,0,0, 0,0,3,0,0,0,0,11,0,0, 0,0,0,0,0,0,0,0,0,5, 0,0,0,0,0,3,0,0,0,0, 0,0,0,0,0],
	[0.5,1,1,0.5,0,0,2,0.5,1,0.5, 0,0,0,0,0,7,4,1,0,0, 0,0,0,1,0,0,0,0,0,0, 0,0,0,0,0,0,0,6,0,0, 0,0,0,0,0,0,0,0,0,0, 0,0,0,0,0,0,0,0,10,0, 0,0,3,0,0],
	[0.5,1,1,0.5,0,0,2,0.5,1,0.5, 0,0,0,0,0,1,5,2,0,0, 0,0,0,0,0,0,0,1,0,0, 0,0,0,0,0,0,0,0,0,0, 0,0,0,0,0,0,0,0,0,4, 1,0,0,0,0,0,0,0,8,2, 0,0,0,0,0],
	[0.5,1,1,0.5,0,0,2,0.5,1,0.5, 0,0,0,0,0,0,1,0,0,0, 0,0,0,0,0,0,0,0,0,0, 0,0,0,4,1,0,0,0,0,0, 0,13,0,0,0,0,0,0,0,0, 0,0,0,0,3,0,0,0,0,0, 0,0,0,0,0],
	[0.5,1,1,0.5,0,0,2,0.5,1,0.5, 0,0,0,0,0,1,5,3,1,0, 0,0,1,0,0,0,0,0,0,0, 0,0,0,0,0,0,0,0,0,0, 0,6,1,0,0,0,0,0,3,0, 0,0,0,0,0,0,0,0,0,0, 0,0,5,0,0],
	[0.5,1,1,0.5,0,0,2,0.5,1,0.5, 0,0,0,0,0,0,1,0,0,0, 0,0,0,0,0,0,0,0,0,0, 0,0,0,0,0,0,0,0,0,0, 0,0,0,3,0,0,0,0,0,0, 0,0,5,9,0,0,0,0,0,0, 0,0,0,0,0]
];

// snow risk (% of members), 0 = no flake
var snowPct = [0,0,52,19,19,0,29,87,97,94, 29,0,0,0,0,3,13,23,26,10, 6,23,39,32,42,39,39,23,16,13, 23,16,16,16,19,10,10,16,16,10, 10,16,13,13,13,13,13,19,26,19, 23,19,26,23,16,26,26,29,32,23, 10,13,13,13,0];
//------------------------------------------------------------------------------------

var font = "'DejaVu Sans Mono', monospace";

var svg = d3.select("body").append("svg")
	.attr("width", 740)
	.attr("height", 700)
	.style("font-family", font);

var x = d3.scaleLinear().domain([0, 384]).range([50, 690]);
var yT = d3.scaleLinear().domain([-45, 30]).range([546, 21]); // left axis, °C
var yP = d3.scaleLinear().domain([0, 75]).range([546, 21]);   // right axis, mm

//--------------------------------grid---------------------------------
var grid = svg.append("g").attr("shape-rendering", "crispEdges");
grid.selectAll(".v").data(d3.range(0, 385, 24)).join("line")
	.attr("x1", d => x(d)).attr("x2", d => x(d))
	.attr("y1", 0).attr("y2", 600)
	.attr("stroke", "#c0c0c0").attr("stroke-width", 1);
grid.selectAll(".h").data(d3.range(-45, 31, 5)).join("line")
	.attr("x1", 50).attr("x2", 690)
	.attr("y1", d => yT(d)).attr("y2", d => yT(d))
	.attr("stroke", d => d === 0 ? "#8c8c8c" : "#c0c0c0")
	.attr("stroke-width", d => d === 0 ? 2.5 : (d % 10 === 0 ? 2 : 1));

//--------------------------------axes---------------------------------
svg.append("g").attr("transform", "translate(32,0)")
	.call(d3.axisLeft(yT).tickValues(d3.range(-45, 31, 5)).tickSize(0).tickPadding(0))
	.call(g => g.select(".domain").remove())
	.attr("font-family", font).attr("font-size", 10)
	.selectAll("text").attr("dy", "0.55em");

svg.append("g").attr("transform", "translate(710,0)")
	.call(d3.axisRight(yP).tickValues(d3.range(0, 76, 5)).tickSize(0).tickPadding(0))
	.call(g => g.select(".domain").remove())
	.attr("font-family", font).attr("font-size", 10)
	.selectAll("text").attr("dy", "0.55em");

var xAxis = svg.append("g").attr("transform", "translate(0,600)")
	.call(d3.axisBottom(x).tickValues(d3.range(0, 385, 24)).tickFormat((d, i) => days[i]).tickSize(0).tickSizeOuter(0))
	.attr("font-family", font).attr("font-size", 10);
xAxis.select(".domain").attr("stroke", "#000").attr("stroke-width", 2);
xAxis.selectAll("text")
	.attr("transform", "rotate(-90)")
	.attr("x", -32).attr("y", 12).attr("dy", 0)
	.attr("text-anchor", "start");

//--------------------------------series--------------------------------
function lineFor(yScale) {
	return d3.line().x((d, i) => x(hours[i])).y(d => yScale(d));
}

function drawMember(g, values, yScale, color) {
	g.append("path").datum(values)
		.attr("d", lineFor(yScale))
		.attr("fill", "none").attr("stroke", color).attr("stroke-width", 1);
	// small crosses on every step
	var marks = values.map((d, i) => "M" + (x(hours[i]) - 1.5) + "," + yScale(d) + "h3M" + x(hours[i]) + "," + (yScale(d) - 1.5) + "v3").join("");
	g.append("path").attr("d", marks).attr("fill", "none").attr("stroke", color).attr("stroke-width", 1);
}

function drawMain(g, values, yScale, color, width) {
	g.append("path").datum(values)
		.attr("d", lineFor(yScale))
		.attr("fill", "none").attr("stroke", color).attr("stroke-width", width)
		.attr("stroke-linejoin", "round");
}

var membersG = svg.append("g");
membersPrec.forEach((m, i) => drawMember(membersG, m, yP, memberColors[i]));
membersT500.forEach((m, i) => drawMember(membersG, m, yT, memberColors[i]));
membersT850.forEach((m, i) => drawMember(membersG, m, yT, memberColors[i]));

var mainG = svg.append("g");
drawMain(mainG, gfsPrec, yP, "#000", 3);
drawMain(mainG, gfsT500, yT, "#000", 3);
drawMain(mainG, gfsT850, yT, "#000", 3);
drawMain(mainG, ctlPrec, yP, "#0000ff", 3);
drawMain(mainG, ctlT500, yT, "#0000ff", 3);
drawMain(mainG, ctlT850, yT, "#0000ff", 3);
drawMain(mainG, meanPrec, yP, "#ff0000", 4);
drawMain(mainG, meanT500, yT, "#ff0000", 4);
drawMain(mainG, meanT850, yT, "#ff0000", 4);

//--------------------------------labels in plot------------------------
svg.append("text").attr("x", 60).attr("y", 213).attr("font-size", 10).text("Temp. 850hPa");
svg.append("text").attr("x", 60).attr("y", 363).attr("font-size", 10).text("Temp. 500hPa");
svg.append("text").attr("x", 60).attr("y", 501).attr("font-size", 10).text("Précipitations");

//--------------------------------snow risk row-------------------------
function snowflake(g, cx, cy) {
	var f = g.append("g").attr("transform", "translate(" + cx + "," + cy + ")");
	f.append("circle").attr("r", 5).attr("fill", "#86cdf0");
	f.append("path")
		.attr("d", "M-4,0H4M-2,-3.5L2,3.5M2,-3.5L-2,3.5")
		.attr("stroke", "#eefaff").attr("stroke-width", 1);
}

var snowData = hours.map((h, i) => ({ h: h, p: snowPct[i] })).filter(d => d.p > 0);
var snowG = svg.append("g");
snowG.selectAll("rect").data(snowData).join("rect")
	.attr("x", d => x(d.h) - 5).attr("width", 10)
	.attr("y", d => 593 - (10 + d.p * 0.27))
	.attr("height", d => 2 + 10 + d.p * 0.27)
	.attr("fill", "#ccffff");
snowData.forEach(d => snowflake(snowG, x(d.h), 589));
snowG.selectAll("text").data(snowData).join("text")
	.attr("transform", d => "translate(" + (x(d.h) + 2) + ",582) rotate(-90)")
	.attr("font-size", 8).attr("font-weight", "bold").attr("fill", "#0000ff")
	.text(d => d.p + "%");

//--------------------------------units / legend-------------------------
svg.append("text").attr("x", 20).attr("y", 609).attr("font-size", 10).text("(°C)");
svg.append("text").attr("x", 10).attr("y", 627).attr("font-size", 10).text("Alt. 53m");
svg.append("text").attr("x", 710).attr("y", 609).attr("font-size", 10).text("(mm)");

var leg = svg.append("g").attr("font-size", 10);
leg.append("rect").attr("x", 35).attr("y", 636).attr("width", 30).attr("height", 3).attr("fill", "#ff0000");
leg.append("text").attr("x", 75).attr("y", 641).text("Moyenne des scénarios");
leg.append("rect").attr("x", 225).attr("y", 636).attr("width", 30).attr("height", 3).attr("fill", "#0000ff");
leg.append("text").attr("x", 265).attr("y", 641).text("Run de contrôle");
leg.append("rect").attr("x", 225).attr("y", 645).attr("width", 30).attr("height", 3).attr("fill", "#000");
leg.append("text").attr("x", 265).attr("y", 651).text("Run GFS");
snowflake(leg, 60, 659);
leg.append("text").attr("x", 75).attr("y", 663).text("Risque neige");
leg.append("text").attr("x", 340).attr("y", 655).text("30 Perts.");

var pert = svg.append("g");
pert.selectAll("rect").data(memberColors).join("rect")
	.attr("x", (d, i) => 400 + i * 11).attr("y", 650)
	.attr("width", 10).attr("height", 7)
	.attr("fill", d => d);
pert.selectAll("text").data(memberColors).join("text")
	.attr("x", (d, i) => 405 + i * 11).attr("y", 647)
	.attr("text-anchor", "middle")
	.attr("font-size", 8).attr("font-weight", "bold")
	.text((d, i) => d3.format("02d")(i + 1));

// title box
svg.append("rect").attr("x", 20.5).attr("y", 667.5).attr("width", 417).attr("height", 31)
	.attr("fill", "none").attr("stroke", "#000").attr("stroke-width", 1.5);
svg.append("text").attr("x", 30).attr("y", 682).attr("font-size", 11.6).attr("font-weight", "bold")
	.text("Diagramme des ensembles GEFS sur 384h pour Istanbul");
svg.append("text").attr("x", 30).attr("y", 695).attr("font-size", 10)
	.text("Températures 850hPa et 500hPa (°C) , précipitations (mm)");
svg.append("text").attr("x", 450).attr("y", 679).attr("font-size", 10)
	.text("Ensemble GEFS du 27/12/2025 - 00Z");
svg.append("text").attr("x", 450).attr("y", 696).attr("font-size", 11.6).attr("font-weight", "bold")
	.text("Copyright 2025 Meteociel.fr");
</script>
</body>
</html>
